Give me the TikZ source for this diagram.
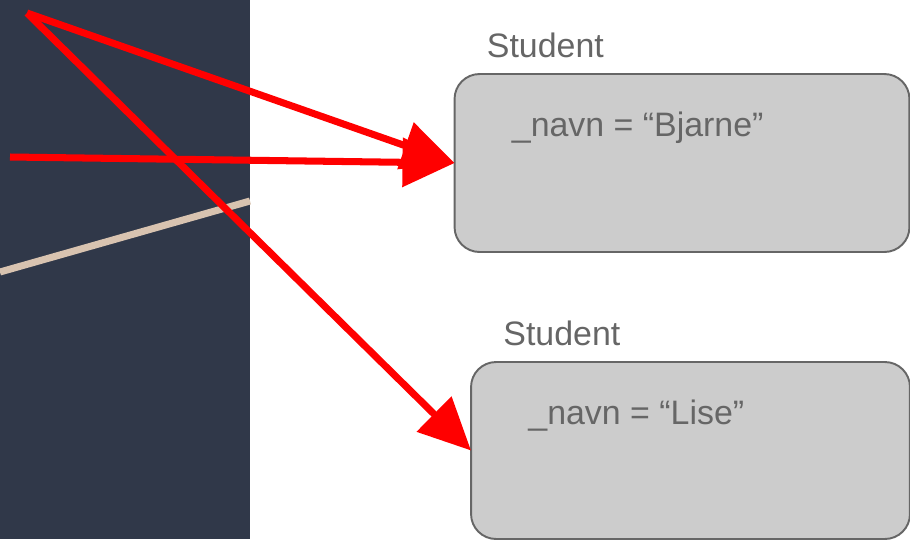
\documentclass[tikz,border=0pt]{standalone}
\usepackage{fontspec}
\setmainfont{Liberation Sans}
\usetikzlibrary{arrows.meta, positioning}
\definecolor{NAVY}{HTML}{303849}
\definecolor{TAN}{HTML}{D8C3B0}
\definecolor{RED}{HTML}{FF0000}
\definecolor{BOXGRAY}{HTML}{CCCCCC}
\definecolor{TEXTGRAY}{HTML}{666666}

\begin{document}
\begin{tikzpicture}[x=0.02cm, y=-0.02cm,
    objbox/.style={draw=TEXTGRAY, fill=BOXGRAY, line width=1.1pt, rounded corners=0.5cm, inner sep=0pt, outer sep=0pt},
    txt/.style={TEXTGRAY, inner sep=0pt, anchor=base west, font=\fontsize{19.3}{23}\selectfont},
    ptr/.style={RED, line width=4pt, -{Triangle[length=1.04cm, width=0.96cm]}}]
    \useasboundingbox (0,0) rectangle (910,539);
    \fill[NAVY] (0,0) rectangle (250,539);
    \draw[TAN, line width=4pt] (0,272) -- (250,201);
    % the two objects
    \node[objbox, minimum width=9.1cm, minimum height=3.56cm] (bjarne) at (682,163) {};
    \node[objbox, minimum width=8.78cm, minimum height=3.54cm] (lise) at (690.5,450.5) {};
    \node[txt] (clsA) at ([shift={(32,-17)}]bjarne.north west) {Student};
    \node[txt] (navnA) at ([shift={(57,62)}]bjarne.north west) {\_navn = “Bjarne”};
    \node[txt] (clsB) at ([shift={(32,-17)}]lise.north west) {Student};
    \node[txt] (navnB) at ([shift={(57,62)}]lise.north west) {\_navn = “Lise”};
    % references
    \coordinate (srcA) at (27,13);
    \coordinate (srcB) at (10,157);
    \draw[ptr] (srcA) -- (bjarne.west);
    \draw[ptr] (srcB) -- (bjarne.west);
    \draw[ptr] (srcA) -- (lise.west);
\end{tikzpicture}
\end{document}
